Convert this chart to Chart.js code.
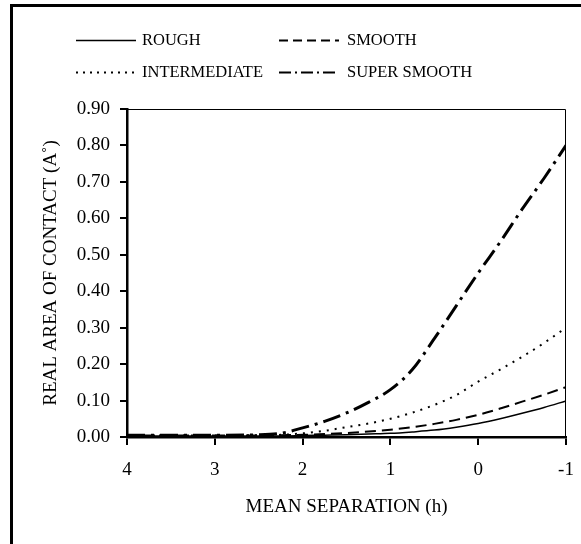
<!DOCTYPE html>
<html>
<head>
<meta charset="utf-8">
<script src="https://cdn.jsdelivr.net/npm/chart.js@4/dist/chart.umd.min.js"></script>
<style>
  html, body { margin: 0; padding: 0; background: #fff; overflow: hidden; }
  #wrap { position: relative; width: 581px; height: 544px; }
</style>
</head>
<body>
<div id="wrap"><canvas id="c" width="581" height="544"></canvas></div>
<script>
// ---- Data ----
const seriesNames = ["ROUGH", "SMOOTH", "INTERMEDIATE", "SUPER SMOOTH"];
const meanSeparation = [4, 3.5, 3, 2.5, 2.25, 2, 1.75, 1.5, 1.25, 1, 0.75, 0.5, 0.25, 0, -0.25, -0.5, -0.75, -1];
const rough        = [0.003,0.003,0.003,0.003,0.003,0.004,0.005,0.006,0.008,0.010,0.014,0.019,0.027,0.037,0.050,0.065,0.081,0.099];
const smooth       = [0.004,0.004,0.004,0.004,0.005,0.006,0.008,0.011,0.015,0.020,0.027,0.036,0.047,0.061,0.078,0.097,0.116,0.137];
const intermediate = [0.004,0.004,0.004,0.005,0.006,0.010,0.017,0.027,0.037,0.050,0.067,0.088,0.115,0.152,0.185,0.220,0.258,0.300];
const superSmooth  = [0.005,0.005,0.005,0.006,0.010,0.025,0.043,0.066,0.095,0.130,0.185,0.270,0.360,0.450,0.535,0.625,0.710,0.800];
const xTickLabels = ["4", "3", "2", "1", "0", "-1"];
const yTickLabels = ["0.00","0.10","0.20","0.30","0.40","0.50","0.60","0.70","0.80","0.90"];
const xTitle = "MEAN SEPARATION (h)";
const yTitle = "REAL AREA OF CONTACT (A\u02DA)";

const FONT = "'Liberation Serif', 'Times New Roman', serif";
Chart.defaults.font.family = FONT;
Chart.defaults.color = "#000";

function pts(ys) { return meanSeparation.map((x, i) => ({ x: x, y: ys[i] })); }

const styles = [
  { borderWidth: 1.5, borderDash: [], legendDash: [] },
  { borderWidth: 2, borderDash: [11, 6], legendDash: [9, 5] },
  { borderWidth: 2, borderDash: [2, 6], legendDash: [2, 5] },
  { borderWidth: 3, borderDash: [18, 6, 3, 6], legendDash: [12, 4, 2, 4] }
];
const allSeries = [rough, smooth, intermediate, superSmooth];

const datasets = allSeries.map((s, i) => ({
  label: seriesNames[i],
  data: pts(s),
  borderColor: "#000",
  backgroundColor: "#000",
  borderWidth: styles[i].borderWidth,
  borderDash: styles[i].borderDash,
  pointRadius: 0,
  cubicInterpolationMode: "monotone",
  fill: false
}));

const framePlugin = {
  id: "frame",
  beforeDraw(chart) {
    const ctx = chart.ctx;
    ctx.save();
    ctx.fillStyle = "#fff";
    ctx.fillRect(0, 0, chart.width, chart.height);
    ctx.strokeStyle = "#000";
    ctx.lineWidth = 3;
    ctx.beginPath();
    ctx.moveTo(11.5, chart.height + 5);
    ctx.lineTo(11.5, 5.5);
    ctx.lineTo(chart.width + 5, 5.5);
    ctx.stroke();
    ctx.restore();
  },
  afterDraw(chart) {
    const ctx = chart.ctx;
    const a = chart.chartArea;
    ctx.save();
    ctx.strokeStyle = "#000";
    ctx.lineWidth = 1;
    ctx.beginPath();
    ctx.moveTo(a.left, a.top + 0.5);
    ctx.lineTo(a.right - 0.5, a.top + 0.5);
    ctx.lineTo(a.right - 0.5, a.bottom);
    ctx.stroke();
    // custom legend
    const cols = [{ lx: 76, tx: 142 }, { lx: 279, tx: 347 }];
    const rows = [40, 72];
    ctx.font = "16.5px " + FONT;
    ctx.textBaseline = "middle";
    ctx.textAlign = "left";
    ctx.fillStyle = "#000";
    [0, 1, 2, 3].forEach((di, k) => {
      const c = cols[k % 2], y = rows[Math.floor(k / 2)];
      const ds = chart.data.datasets[di];
      ctx.lineWidth = Math.min(ds.borderWidth, 2);
      ctx.setLineDash(styles[di].legendDash);
      ctx.beginPath();
      ctx.moveTo(c.lx, y + 0.5);
      ctx.lineTo(c.lx + 60, y + 0.5);
      ctx.stroke();
      ctx.setLineDash([]);
      ctx.fillText(ds.label, c.tx, y + 1);
    });
    ctx.restore();
  }
};

new Chart(document.getElementById("c"), {
  type: "line",
  data: { datasets: datasets },
  options: {
    responsive: false,
    animation: false,
    layout: { padding: { left: 0, top: 109, right: 15, bottom: 0 } },
    plugins: { legend: { display: false }, tooltip: { enabled: false } },
    scales: {
      x: {
        type: "linear",
        reverse: true,
        min: -1, max: 4,
        afterFit(s) { s.height = 107; s.paddingLeft = 0; s.paddingRight = 0; },
        border: { display: true, color: "#000", width: 2.5 },
        grid: { drawOnChartArea: false, drawTicks: true, tickLength: 8, color: "#000", lineWidth: 2 },
        ticks: {
          stepSize: 1, padding: 14, font: { size: 19 }, color: "#000", maxRotation: 0,
          callback: (v) => { const i = 4 - v; return Number.isInteger(v) ? xTickLabels[i] : ""; }
        },
        title: { display: true, text: xTitle, font: { size: 19 }, color: "#000", padding: { top: 0, bottom: 26 } }
      },
      y: {
        min: 0, max: 0.9,
        afterFit(s) { s.width = 127; s.paddingTop = 0; s.paddingBottom = 0; },
        border: { display: true, color: "#000", width: 2.5 },
        grid: { drawOnChartArea: false, drawTicks: true, tickLength: 7, color: "#000", lineWidth: 2 },
        ticks: {
          stepSize: 0.1, padding: 10, font: { size: 19 }, color: "#000",
          callback: (v) => { const i = Math.round(v * 10); return yTickLabels[i]; }
        },
        title: { display: true, text: yTitle, font: { size: 19 }, color: "#000", padding: { top: 40, bottom: 0 } }
      }
    }
  },
  plugins: [framePlugin]
});
</script>
</body>
</html>
